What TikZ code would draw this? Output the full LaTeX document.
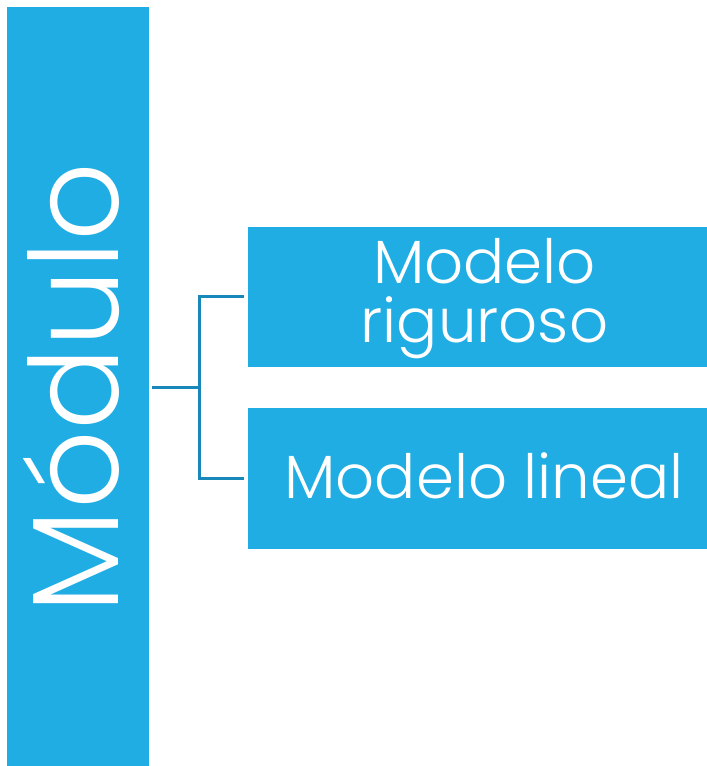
\documentclass[tikz,border=0pt]{standalone}
\usepackage{fontspec}
\setmainfont{Poppins}[UprightFont=* Light]
\usepackage{xcolor}
\usetikzlibrary{calc}

\definecolor{boxblue}{RGB}{31,173,228}
\definecolor{lineblue}{RGB}{24,135,185}

\tikzset{
  box/.style={fill=boxblue, inner sep=0pt, anchor=north west},
  boxtext/.style={text=white, inner sep=0pt, anchor=base, font=\fontsize{61}{61}\selectfont},
  link/.style={draw=lineblue, line width=3pt}
}

\begin{document}
\begin{tikzpicture}[x=1pt,y=-1pt]

\useasboundingbox (0,0) rectangle (707,766);

\node[box, minimum width=142pt, minimum height=759pt] (modulo) at (7,7) {};
\node[box, minimum width=473pt, minimum height=140.5pt] (rig) at (248,226.5) {};
\node[box, minimum width=473pt, minimum height=141.5pt] (lin) at (248,407.5) {};

\node[boxtext, rotate=90, font=\fontsize{123}{123}\selectfont] (modulotxt) at (118,388) {Módulo};
\node[boxtext] (rigtxt1) at (484.5,283) {Modelo};
\node[boxtext] (rigtxt2) at (484.5,342) {riguroso};
\node[boxtext] (lintxt) at (484,498) {Modelo lineal};

\coordinate (fork) at (199,387.5);
\draw[link] ([xshift=3pt]modulo.east |- fork) -- (fork);
\draw[link] ([xshift=-4pt]rig.west) -| (fork) |- ([xshift=-4pt]lin.west);

\end{tikzpicture}
\end{document}
